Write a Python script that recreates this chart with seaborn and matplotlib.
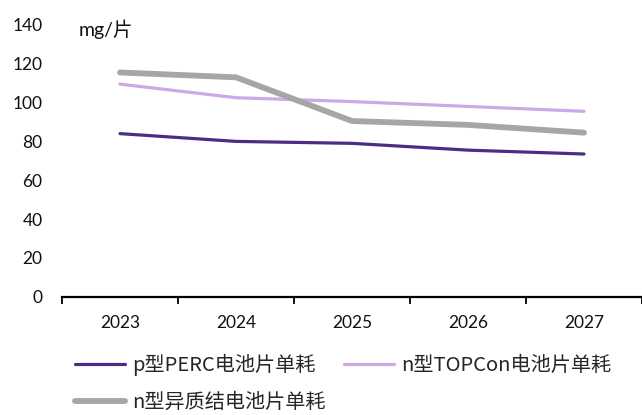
import matplotlib
matplotlib.use("Agg")
import matplotlib.pyplot as plt
import seaborn as sns
import pandas as pd

years = ["2023", "2024", "2025", "2026", "2027"]
perc = [84, 80, 79, 75.5, 73.5]
topcon = [109.5, 102.5, 100.5, 98, 95.5]
hjt = [115.5, 113, 90.5, 88.5, 84.5]

series_names = ["p型PERC电池片单耗", "n型TOPCon电池片单耗", "n型异质结电池片单耗"]
colors = ["#4B2D84", "#CCA8E8", "#A6A6A6"]
widths = [2.3, 2.3, 4.2]
y_ticks = [0, 20, 40, 60, 80, 100, 120, 140]
unit_label = "mg/片"

sns.set_theme(style="white")
plt.rcParams["font.family"] = ["Lato", "Noto Sans CJK SC", "DejaVu Sans"]

df = pd.concat([
    pd.DataFrame({"year": years, "value": vals, "series": name})
    for name, vals in zip(series_names, [perc, topcon, hjt])
], ignore_index=True)

fig = plt.figure(figsize=(6.42, 4.15), dpi=100)
ax = fig.add_axes([0.0966, 0.285, 0.9034, 0.655])

for name, col, lw in zip(series_names, colors, widths):
    sub = df[df["series"] == name]
    sns.lineplot(data=sub, x="year", y="value", ax=ax, color=col,
                 linewidth=lw, label=name, solid_capstyle="round")

ax.set_xlim(-0.5, len(years) - 0.5)
ax.set_ylim(0, 140)
ax.set_yticks(y_ticks)
ax.set_yticklabels([str(v) for v in y_ticks], fontsize=12.5, color="#111111")
ax.tick_params(axis="y", length=0, pad=14)

# category boundaries as major ticks, labels on minor ticks at centres
ax.set_xticks([i - 0.5 for i in range(len(years) + 1)])
ax.set_xticklabels([])
ax.set_xticks(range(len(years)), minor=True)
ax.set_xticklabels(years, minor=True, fontsize=12.5, color="#111111")
ax.tick_params(axis="x", which="major", direction="out", length=5, width=1.3,
               color="black", bottom=True)
ax.tick_params(axis="x", which="minor", length=0, pad=13)

for side in ["top", "right", "left"]:
    ax.spines[side].set_visible(False)
ax.spines["bottom"].set_color("black")
ax.spines["bottom"].set_linewidth(1.6)
ax.set_xlabel("")
ax.set_ylabel("")

fig.text(0.123, 0.93, unit_label, fontsize=14, va="center", ha="left",
         color="#111111", family=["Lato", "Noto Sans CJK SC"])

ax.legend_.remove()
handles, labels = ax.get_legend_handles_labels()
order = [0, 2, 1]  # fill row by row: PERC, TOPCon / HJT
fig.legend([handles[i] for i in order], [labels[i] for i in order],
           loc="upper left", bbox_to_anchor=(0.117, 0.147),
           ncol=2, frameon=False, handlelength=2.5, handletextpad=0.35,
           columnspacing=0.9, labelspacing=0.78, borderpad=0,
           borderaxespad=0,
           prop={"family": "Noto Sans CJK SC", "size": 14.5})

fig.savefig("out.png", dpi=100)
